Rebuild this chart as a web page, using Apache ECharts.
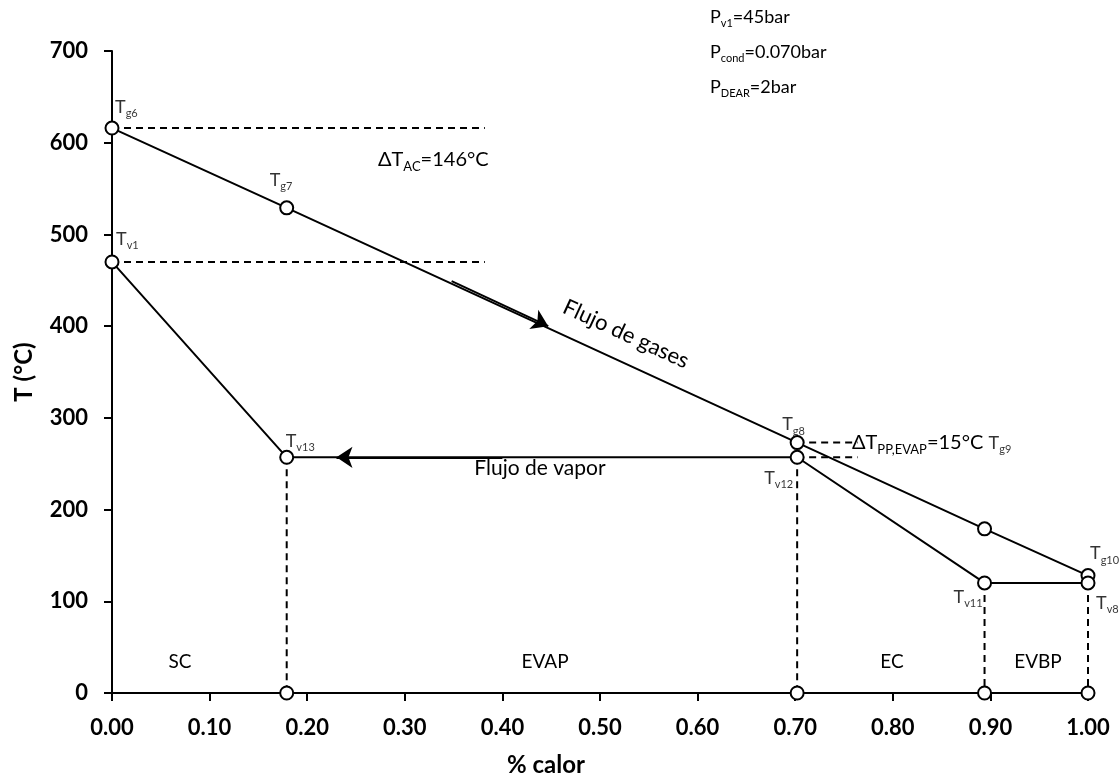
<!DOCTYPE html>
<html>
<head>
<meta charset="utf-8">
<script src="https://cdn.jsdelivr.net/npm/echarts@6/dist/echarts.min.js"></script>
<style>
html,body{margin:0;padding:0;background:#fff;}
#chart{width:1119px;height:784px;}
</style>
</head>
<body>
<div id="chart"></div>
<script>
// ---- data ----
const heatFraction = [0, 0.179, 0.702, 0.894, 1.0];      // % calor at each state
const gasTemp = [616, 529, 273, 179, 128];               // Tg6..Tg10
const vaporTemp = [470, 257, 257, 120, 120];             // Tv1, Tv13, Tv12, Tv11, Tv8
const gasNames = ['g6', 'g7', 'g8', 'g9', 'g10'];
const vaporNames = ['v1', 'v13', 'v12', 'v11', 'v8'];
const approachEndX = 0.382;   // end of dashed lines for ΔT_AC
const pinchEndX = 0.764;      // end of dashed lines for ΔT_PP
const gasArrow = [[0.348, 449], [0.447, 400]];
const vaporArrow = [[0.40, 257], [0.230, 257]];
const xTicks = [0, 0.1, 0.2, 0.3, 0.4, 0.5, 0.6, 0.7, 0.8, 0.9, 1.0];
const yTicks = [0, 100, 200, 300, 400, 500, 600, 700];

// ---- styles ----
const FONT = 'Lato, "Open Sans", sans-serif';
const gasLabelOffsets = [[3, -19], [-17, -26], [-15, -16], [4, -84], [2, -20]];
const vaporLabelOffsets = [[4, -21], [-1, -14], [-33, 23], [-31, 16], [8, 22]];

const richSub = {
  t: {fontSize: 18, fontFamily: FONT, color: '#000', verticalAlign: 'bottom', lineHeight: 20, padding: [0, 0, 3, 0]},
  s: {fontSize: 11, fontFamily: FONT, color: '#000', verticalAlign: 'bottom', lineHeight: 13}
};
const richBig = {
  t: {fontSize: 20, fontFamily: FONT, color: '#000', verticalAlign: 'bottom', lineHeight: 23, padding: [0, 0, 3, 0]},
  s: {fontSize: 13, fontFamily: FONT, color: '#000', verticalAlign: 'bottom', lineHeight: 15}
};

function pts(xs, ys) { return xs.map((x, i) => [x, ys[i]]); }

const pointStyle = {color: '#fff', borderColor: '#000', borderWidth: 2, opacity: 1};
const dashStyle = {color: '#000', width: 2, type: [7, 5]};

const series = [];
// dashed horizontal lines (ΔT_AC)
series.push({type: 'line', data: [[heatFraction[0], gasTemp[0]], [approachEndX, gasTemp[0]]], showSymbol: false, lineStyle: dashStyle, z: 1, silent: true});
series.push({type: 'line', data: [[heatFraction[0], vaporTemp[0]], [approachEndX, vaporTemp[0]]], showSymbol: false, lineStyle: dashStyle, z: 1, silent: true});
// dashed horizontal lines (pinch)
series.push({type: 'line', data: [[heatFraction[2], gasTemp[2]], [pinchEndX, gasTemp[2]]], showSymbol: false, lineStyle: dashStyle, z: 1, silent: true});
series.push({type: 'line', data: [[heatFraction[2], vaporTemp[2]], [pinchEndX, vaporTemp[2]]], showSymbol: false, lineStyle: dashStyle, z: 1, silent: true});
// vertical dashed lines
for (let i = 1; i < heatFraction.length; i++) {
  series.push({type: 'line', data: [[heatFraction[i], vaporTemp[i]], [heatFraction[i], 0]], showSymbol: false, lineStyle: dashStyle, z: 1, silent: true});
}
// gas line
series.push({
  type: 'line', data: pts(heatFraction, gasTemp), symbol: 'circle', symbolSize: 13,
  itemStyle: pointStyle, lineStyle: {color: '#000', width: 2}, z: 3
});
// vapor line
series.push({
  type: 'line', data: pts(heatFraction, vaporTemp), symbol: 'circle', symbolSize: 13,
  itemStyle: pointStyle, lineStyle: {color: '#000', width: 2}, z: 3
});
// bottom circles
series.push({
  type: 'scatter', data: heatFraction.slice(1).map(x => [x, 0]), symbol: 'circle', symbolSize: 13,
  itemStyle: pointStyle, z: 4
});
// arrows
series.push({
  type: 'lines', coordinateSystem: 'cartesian2d', symbol: ['none', 'arrow'], symbolSize: 16,
  lineStyle: {color: '#000', width: 2, opacity: 1}, z: 5,
  data: [{coords: gasArrow}, {coords: vaporArrow}]
});
// point labels
function labelSeries(ys, names, offsets) {
  return {
    type: 'scatter', symbol: 'circle', symbolSize: 1, itemStyle: {color: 'rgba(0,0,0,0)'}, z: 6, silent: true,
    data: heatFraction.map((x, i) => ({
      value: [x, ys[i]],
      label: {
        show: true, position: 'inside', align: 'left', verticalAlign: 'middle',
        offset: offsets[i], formatter: '{t|T}{s|' + names[i] + '}', rich: richSub
      }
    }))
  };
}
series.push(labelSeries(gasTemp, gasNames, gasLabelOffsets));
series.push(labelSeries(vaporTemp, vaporNames, vaporLabelOffsets));

function rtext(left, top, text, rich, extra) {
  return Object.assign({type: 'text', left: left, top: top, style: {text: text, rich: rich, fill: '#000'}}, extra || {});
}
function ptext(x, y, text, size, extra) {
  return Object.assign({type: 'text', x: x, y: y, style: Object.assign({text: text, fontFamily: FONT, fontSize: size, fill: '#000', align: 'center', verticalAlign: 'middle'}, (extra && extra.style) || {})}, extra && extra.rotation !== undefined ? {rotation: extra.rotation} : {});
}

const option = {
  animation: false,
  backgroundColor: '#fff',
  grid: {left: 112, right: 31, top: 51, bottom: 91, containLabel: false},
  xAxis: {
    type: 'value', min: 0, max: 1, interval: 0.1,
    axisLine: {show: true, onZero: false, lineStyle: {color: '#000', width: 2}},
    axisTick: {show: true, length: 8, lineStyle: {color: '#000', width: 2}},
    splitLine: {show: false},
    axisLabel: {
      color: '#000', fontFamily: FONT, fontWeight: 'bold', fontSize: 22, margin: 24,
      formatter: v => v.toFixed(2)
    }
  },
  yAxis: {
    type: 'value', min: 0, max: 700, interval: 100,
    name: 'T (°C)', nameLocation: 'middle', nameGap: 76, nameRotate: 90,
    nameTextStyle: {color: '#000', fontFamily: FONT, fontWeight: 'bold', fontSize: 24},
    axisLine: {show: true, lineStyle: {color: '#000', width: 2}},
    axisTick: {show: true, length: 8, lineStyle: {color: '#000', width: 2}},
    splitLine: {show: false},
    axisLabel: {color: '#000', fontFamily: FONT, fontWeight: 'bold', fontSize: 22, margin: 24}
  },
  graphic: [
    rtext(710, 8, '{t|P}{s|v1}{t|=45bar}', richSub),
    rtext(710, 43, '{t|P}{s|cond}{t|=0.070bar}', richSub),
    rtext(710, 78, '{t|P}{s|DEAR}{t|=2bar}', richSub),
    rtext(378, 150, '{t|ΔT}{s|AC}{t|=146°C}', richBig),
    rtext(852, 433, '{t|ΔT}{s|PP,EVAP}{t|=15°C}', richBig),
    ptext(540, 468, 'Flujo de vapor', 21),
    ptext(626, 334, 'Flujo de gases', 22, {rotation: -0.43}),
    ptext(180, 662, 'SC', 19),
    ptext(545, 662, 'EVAP', 19),
    ptext(892, 662, 'EC', 19),
    ptext(1038, 662, 'EVBP', 19),
    ptext(546, 765, '% calor', 24, {style: {fontWeight: 'bold'}})
  ],
  series: series
};

const chart = echarts.init(document.getElementById('chart'), null, {renderer: 'canvas'});
chart.setOption(option);
</script>
</body>
</html>
